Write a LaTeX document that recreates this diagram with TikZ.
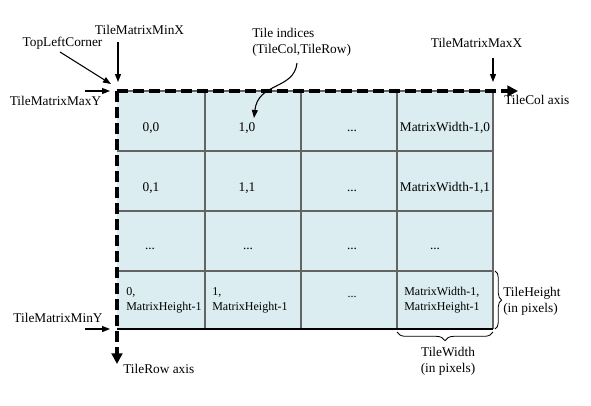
\documentclass[tikz,border=0pt]{standalone}
\usepackage{fontspec}
\setmainfont{Liberation Serif}
\usetikzlibrary{arrows.meta,decorations.pathreplacing}
\definecolor{tilefill}{RGB}{219,237,240}
\definecolor{tileline}{RGB}{100,100,100}

\begin{document}
\begin{tikzpicture}[x=0.75pt,y=-0.75pt,font=\normalsize,
    txt/.style={inner sep=0pt},
    ptr/.style={-{Triangle[length=6pt,width=4.5pt]},line width=0.8pt},
    axisline/.style={line width=2.4pt,dash pattern=on 8pt off 4pt,-{Triangle[length=8pt,width=8pt]}},
    gridline/.style={draw=tileline,line width=0.9pt},
    bracket/.style={decorate,decoration={brace,amplitude=#1},line width=0.6pt}]
  \useasboundingbox (0,0) rectangle (591,405);
  \def\gl{117} \def\gr{493} \def\gt{91} \def\gb{329}
  % tiles
  \fill[tilefill] (\gl,\gt) rectangle (\gr,\gb);
  \foreach \x in {205,301,397,\gr} \draw[gridline] (\x,\gt) -- (\x,\gb);
  \foreach \y in {\gt,151,211,271} \draw[gridline] (\gl,\y) -- (\gr,\y);
  \draw[line width=0.9pt] (\gl,\gb) -- (\gr,\gb);
  \foreach \r/\h in {0/131,1/191} {
    \node[txt,anchor=base] (cell-0-\r) at (151,\h) {0,\r};
    \node[txt,anchor=base] (cell-1-\r) at (247,\h) {1,\r};
    \node[txt,anchor=base] (cell-2-\r) at (352,\h) {...};
    \node[txt,anchor=base] (cell-3-\r) at (445,\h) {MatrixWidth-1,\r};
  }
  \foreach \c/\w in {0/150,1/248,2/352,3/435}
    \node[txt,anchor=base] (cell-\c-2) at (\w,249) {...};
  \node[txt,anchor=west,align=left,font=\small] (cell-0-3) at (126,300) {0,\\MatrixHeight-1};
  \node[txt,anchor=west,align=left,font=\small] (cell-1-3) at (212,300) {1,\\MatrixHeight-1};
  \node[txt,anchor=base,font=\small] (cell-2-3) at (352,297) {...};
  \node[txt,anchor=west,align=left,font=\small] (cell-3-3) at (404,300) {MatrixWidth-1,\\MatrixHeight-1};

  % axes
  \coordinate (origin) at (\gl,\gt);
  \coordinate (col-end) at (518,\gt);
  \coordinate (row-end) at (\gl,364);
  \draw[axisline] (origin) -- (col-end);
  \draw[axisline] (origin) -- (row-end);
  \node[txt,anchor=west] (col-axis) at (504,100) {TileCol axis};
  \node[txt,anchor=west] (row-axis) at (123,369) {TileRow axis};

  % labels and pointers
  \node[txt] (lbl-corner) at (62.5,43) {TopLeftCorner};
  \node[txt] (lbl-minx) at (139.5,30) {TileMatrixMinX};
  \node[txt] (lbl-maxx) at (476.5,43) {TileMatrixMaxX};
  \node[txt] (lbl-maxy) at (55.5,101) {TileMatrixMaxY};
  \node[txt] (lbl-miny) at (58,318) {TileMatrixMinY};
  \node[txt,anchor=west,align=left] (lbl-idx) at (252,42.5) {Tile indices\\(TileCol,TileRow)};
  \foreach \name/\xa/\ya/\xb/\yb in {corner/60/52/111/84,
      minx/118/42/118/82,
      maxx/493/58/493/82,
      maxy/85/91/110/91,
      miny/85/329/110/329} {
    \coordinate (\name-tail) at (\xa,\ya);
    \coordinate (\name-tip) at (\xb,\yb);
    \draw[ptr] (\name-tail) -- (\name-tip);
  }
  \coordinate (idx-tail) at (297,63);
  \coordinate (idx-tip) at (254,118);
  \draw[ptr] (idx-tail) .. controls (294,90) and (258,82) .. (idx-tip);

  % tile size braces
  \coordinate (hb-top) at (495,271);
  \coordinate (hb-bot) at (495,329);
  \coordinate (wb-right) at (493,332);
  \coordinate (wb-left) at (397,332);
  \draw[bracket=5pt] (hb-top) -- (hb-bot);
  \draw[bracket=6.5pt] (wb-right) -- (wb-left);
  \node[txt,anchor=west,align=left] (lbl-height) at (503,301.5) {TileHeight\\(in pixels)};
  \node[txt,align=center] (lbl-width) at (448,361.5) {TileWidth\\(in pixels)};
\end{tikzpicture}
\end{document}
